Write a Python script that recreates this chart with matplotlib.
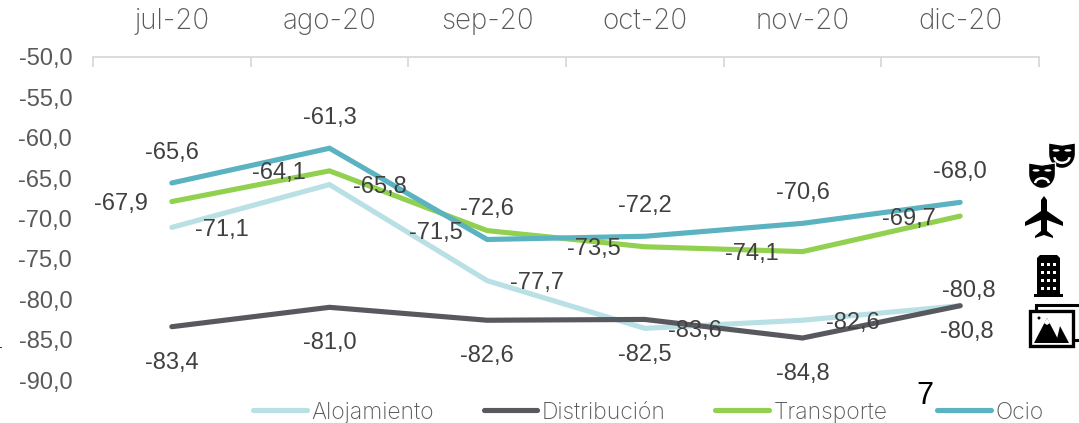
import numpy as np
import matplotlib
matplotlib.use('Agg')
import matplotlib.pyplot as plt
from matplotlib.patches import Polygon, Rectangle, Ellipse, Arc

months = ['jul-20', 'ago-20', 'sep-20', 'oct-20', 'nov-20', 'dic-20']
alojamiento = [-71.1, -65.8, -77.7, -83.6, -82.6, -80.8]
distribucion = [-83.4, -81.0, -82.6, -82.5, -84.8, -80.8]
transporte = [-67.9, -64.1, -71.5, -73.5, -74.1, -69.7]
ocio = [-65.6, -61.3, -72.6, -72.2, -70.6, -68.0]
y_ticks = [-50, -55, -60, -65, -70, -75, -80, -85, -90]

W, H = 1079, 423
GREY = '#595959'
LABEL_FONT = ['Liberation Sans', 'DejaVu Sans']
NAME_FONT = ['Inter', 'DejaVu Sans']

fig = plt.figure(figsize=(W / 100, H / 100), dpi=100)
ax = fig.add_axes([93 / W, 1 - 380 / H, (1039 - 93) / W, (380 - 57) / H])
x = np.arange(len(months))


def px(dx, dy):
    # pixel offset to points, y down like in the picture
    return (dx * 0.72, -dy * 0.72)


series = [
    ('Alojamiento', alojamiento, '#B8E0E5', (50, 2.5)),
    ('Distribución', distribucion, '#58585F', (0, 36)),
    ('Transporte', transporte, '#92D050', (-51, 2.5)),
    ('Ocio', ocio, '#5BB3C1', (0, -30)),
]
last_offsets = {'Alojamiento': (9, -15), 'Distribución': (7, 26)}

for name, values, color, offset in series:
    ax.plot(x, values, color=color, linewidth=3.7, label=name,
            solid_capstyle='round', solid_joinstyle='miter')
for name, values, color, offset in series:
    for i, v in enumerate(values):
        off = last_offsets.get(name, offset) if i == len(values) - 1 else offset
        ax.annotate(f'{v:.1f}'.replace('.', ','), (x[i], v), xytext=px(*off),
                    textcoords='offset points', ha='center', va='center',
                    fontsize=17, color='#404040', family=LABEL_FONT)

ax.set_xlim(-0.5, 5.5)
ax.set_ylim(-90, -50)
ax.set_yticks(y_ticks)
ax.set_yticklabels([f'{t:.1f}'.replace('.', ',') for t in y_ticks],
                   fontsize=17, color=GREY, family=LABEL_FONT)
ax.tick_params(axis='y', length=0, pad=15)

# eje de categorias arriba, marcas entre meses
ax.xaxis.tick_top()
ax.set_xticks(x)
ax.set_xticklabels(months, fontsize=20, color=GREY, family=NAME_FONT, fontweight='light')
ax.tick_params(axis='x', which='major', length=0, pad=16)
ax.set_xticks(np.arange(-0.5, 6), minor=True)
ax.tick_params(axis='x', which='minor', direction='in', length=7, width=1.3,
               color='#D9D9D9', top=True, bottom=False)
for side in ['left', 'right', 'bottom']:
    ax.spines[side].set_visible(False)
ax.spines['top'].set_color('#D9D9D9')
ax.spines['top'].set_linewidth(1.3)

leg = fig.legend(loc='center left', bbox_to_anchor=(253 / W, 1 - 412.5 / H), ncol=4,
                 frameon=False, handlelength=2.34, handletextpad=0.2, columnspacing=2.17,
                 borderpad=0, borderaxespad=0,
                 prop={'family': NAME_FONT, 'size': 16.5, 'weight': 'light'},
                 labelcolor=GREY)

# capa en pixeles para los iconos y el numero suelto
ov = fig.add_axes([0, 0, 1, 1], facecolor='none')
ov.set_xlim(0, W)
ov.set_ylim(H, 0)
ov.axis('off')
ov.text(925, 396, '7', fontsize=22, color='black', ha='center', va='center',
        family=LABEL_FONT)
ov.add_patch(Rectangle((0, 347), 1.5, 1.5, color='#333333', lw=0))


def mask(cx, cy, w, smile):
    t = np.linspace(0, np.pi, 30)
    top = cy - w * 0.45
    outline = [(cx - w / 2, top), (cx, top + w * 0.08), (cx + w / 2, top)]
    outline += [(cx + w / 2 * np.cos(a), cy - w * 0.05 + w * 0.55 * np.sin(a)) for a in t]
    ov.add_patch(Polygon(outline, closed=True, fc='black', ec='white', lw=1))
    for s in (-1, 1):
        ov.add_patch(Ellipse((cx + s * w * 0.22, cy - w * 0.17), w * 0.26, w * 0.09,
                             color='white', lw=0))
    if smile:
        ov.add_patch(Arc((cx, cy + w * 0.08), w * 0.55, w * 0.42, theta1=0, theta2=180,
                         color='white', lw=1.8))
    else:
        ov.add_patch(Arc((cx, cy + w * 0.3), w * 0.5, w * 0.36, theta1=180, theta2=360,
                         color='white', lw=1.8))


mask(1062, 155, 27, True)
mask(1042, 175, 27, False)

plane = [(1044, 196), (1047, 200), (1047, 211), (1063, 222), (1063, 226), (1047, 220),
         (1047, 231), (1053, 236), (1053, 238), (1044, 235), (1035, 238), (1035, 236),
         (1041, 231), (1041, 220), (1025, 226), (1025, 222), (1041, 211), (1041, 200)]
ov.add_patch(Polygon(plane, closed=True, color='black', lw=0))

ov.add_patch(Polygon([(1037, 258), (1040, 255), (1057, 255), (1060, 258), (1060, 294),
                      (1063, 294), (1063, 297), (1034, 297), (1034, 294), (1037, 294)],
                     closed=True, color='black', lw=0))
for wx in [1040.5, 1046.5, 1052.5]:
    for wy in [263, 271, 279, 287]:
        ov.add_patch(Rectangle((wx, wy), 3.5, 3.5, color='white', lw=0))

ov.add_patch(Rectangle((1036, 305), 44, 35, fc='white', ec='black', lw=2.2))
ov.add_patch(Rectangle((1030, 311), 43, 35.5, fc='white', ec='black', lw=2.4))
ov.add_patch(Polygon([(1034, 343), (1047, 318), (1060, 343)], closed=True, color='black', lw=0))
ov.add_patch(Polygon([(1044, 323), (1047, 318), (1050, 323), (1047, 325)], closed=True, color='white', lw=0))
ov.add_patch(Polygon([(1056, 343), (1060, 326), (1069, 343)], closed=True, color='black', lw=0))
ov.add_patch(Ellipse((1039, 318), 3, 3, color='black', lw=0))

fig.savefig('out.png', dpi=100)
